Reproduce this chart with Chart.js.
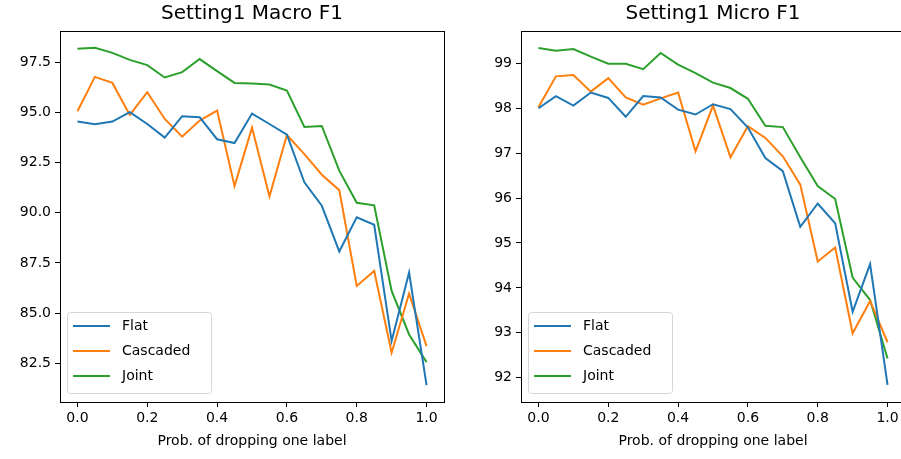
<!DOCTYPE html>
<html>
<head>
<meta charset="utf-8">
<script src="https://cdn.jsdelivr.net/npm/chart.js@4"></script>
<style>
  html, body { margin: 0; padding: 0; background: #fff; overflow: hidden; }
  #wrap { position: relative; width: 901px; height: 459px; overflow: hidden; }
  canvas { position: absolute; top: 0; }
</style>
</head>
<body>
<div id="wrap">
  <canvas id="macro" width="450" height="459" style="left:0px"></canvas>
  <canvas id="micro" width="450" height="459" style="left:461px"></canvas>
</div>
<script>
// Prob. of dropping one label (x values)
const probs = [0, 0.05, 0.1, 0.15, 0.2, 0.25, 0.3, 0.35, 0.4, 0.45, 0.5,
               0.55, 0.6, 0.65, 0.7, 0.75, 0.8, 0.85, 0.9, 0.95, 1.0];
const xTicks = [0, 0.2, 0.4, 0.6, 0.8, 1.0];

// Setting1 Macro F1
const macroFlat = [94.55, 94.42, 94.55, 95.02, 94.43, 93.75, 94.82, 94.77, 93.67, 93.48, 94.95,
                   94.43, 93.9, 91.52, 90.35, 88.07, 89.77, 89.4, 83.6, 87.02, 81.4];
const macroCascaded = [95.07, 96.78, 96.48, 94.88, 96.02, 94.68, 93.8, 94.6, 95.1, 91.33, 94.25,
                       90.82, 93.88, 92.93, 91.9, 91.13, 86.35, 87.1, 83.02, 85.97, 83.35];
const macroJoint = [98.18, 98.23, 97.98, 97.63, 97.37, 96.75, 97.02, 97.67, 97.07, 96.48, 96.45,
                    96.4, 96.1, 94.28, 94.33, 92.1, 90.5, 90.37, 86.1, 83.93, 82.55];
const macroTicks = [82.5, 85.0, 87.5, 90.0, 92.5, 95.0, 97.5];

// Setting1 Micro F1
const microFlat = [98.0, 98.27, 98.06, 98.35, 98.23, 97.81, 98.27, 98.24, 97.97, 97.86, 98.09,
                   97.98, 97.57, 96.89, 96.6, 95.36, 95.88, 95.44, 93.47, 94.53, 91.84];
const microCascaded = [98.02, 98.71, 98.74, 98.37, 98.67, 98.24, 98.08, 98.22, 98.35, 97.04, 98.06,
                       96.91, 97.6, 97.34, 96.93, 96.3, 94.59, 94.9, 92.99, 93.71, 92.79];
const microJoint = [99.34, 99.28, 99.32, 99.15, 98.99, 98.99, 98.87, 99.23, 98.97, 98.78, 98.57,
                    98.45, 98.21, 97.61, 97.58, 96.91, 96.27, 95.98, 94.23, 93.73, 92.43];
const microTicks = [92, 93, 94, 95, 96, 97, 98, 99];

const seriesNames = ['Flat', 'Cascaded', 'Joint'];
const colors = ['#1f77b4', '#ff7f0e', '#2ca02c'];
const FONT = "'DejaVu Sans', sans-serif";

Chart.defaults.font.family = FONT;
Chart.defaults.color = '#000';

// titre centré sur la zone du graphique, cadre complet + légende en bas à gauche
const frameLegend = {
    id: 'frameLegend',
    afterDraw(chart) {
        const ctx = chart.ctx;
        const a = chart.chartArea;
        ctx.save();
        ctx.fillStyle = '#000';
        ctx.font = '20px ' + FONT;
        ctx.textAlign = 'center';
        ctx.textBaseline = 'middle';
        ctx.fillText(chart.options.plugins.frameLegend.title, (a.left + a.right) / 2, 14);

        ctx.strokeStyle = '#000';
        ctx.lineWidth = 1;
        ctx.strokeRect(Math.round(a.left) + 0.5, Math.round(a.top) + 0.5,
                       Math.round(a.right - a.left), Math.round(a.bottom - a.top));

        const x = Math.round(a.left) + 7, y = Math.round(a.bottom) - 90;
        const w = 144, h = 81;
        ctx.beginPath();
        ctx.roundRect(x + 0.5, y + 0.5, w, h, 3);
        ctx.fillStyle = 'rgba(255,255,255,0.8)';
        ctx.fill();
        ctx.strokeStyle = '#d6d6d6';
        ctx.stroke();

        ctx.font = '14px ' + FONT;
        ctx.textAlign = 'left';
        chart.data.datasets.forEach((ds, i) => {
            const ly = y + 14 + i * 25;
            ctx.strokeStyle = ds.borderColor;
            ctx.lineWidth = 2;
            ctx.beginPath();
            ctx.moveTo(x + 6, ly);
            ctx.lineTo(x + 43, ly);
            ctx.stroke();
            ctx.fillStyle = '#000';
            ctx.fillText(ds.label, x + 55, ly);
        });
        ctx.restore();
    }
};

function makeChart(id, title, series, yMin, yMax, yTicks, decimals) {
    const datasets = series.map((vals, i) => ({
        label: seriesNames[i],
        data: probs.map((p, j) => ({x: p, y: vals[j]})),
        borderColor: colors[i],
        backgroundColor: colors[i],
        borderWidth: 2,
        pointRadius: 0,
        tension: 0,
        fill: false
    }));

    return new Chart(document.getElementById(id), {
        type: 'line',
        data: {datasets: datasets},
        options: {
            responsive: false,
            animation: false,
            devicePixelRatio: 1,
            layout: {padding: {left: 0, right: 6, top: 31, bottom: 0}},
            plugins: {
                legend: {display: false},
                tooltip: {enabled: false},
                title: {display: false},
                frameLegend: {title: title}
            },
            scales: {
                x: {
                    type: 'linear',
                    min: -0.05,
                    max: 1.05,
                    afterBuildTicks: scale => { scale.ticks = xTicks.map(v => ({value: v})); },
                    afterFit: scale => { scale.height = 57; },
                    ticks: {
                        autoSkip: false,
                        maxRotation: 0,
                        padding: 3,
                        color: '#000',
                        font: {size: 14},
                        callback: v => Number(v).toFixed(1)
                    },
                    grid: {drawOnChartArea: false, drawTicks: true, tickLength: 5, color: '#000'},
                    border: {display: true, color: '#000', width: 1},
                    title: {
                        display: true,
                        text: 'Prob. of dropping one label',
                        color: '#000',
                        font: {size: 14, lineHeight: 1.2},
                        padding: {top: 0, bottom: 9}
                    }
                },
                y: {
                    min: yMin,
                    max: yMax,
                    afterBuildTicks: scale => { scale.ticks = yTicks.map(v => ({value: v})); },
                    afterFit: scale => { scale.width = 60; },
                    ticks: {
                        autoSkip: false,
                        padding: 4,
                        color: '#000',
                        font: {size: 14},
                        callback: v => Number(v).toFixed(decimals)
                    },
                    grid: {drawOnChartArea: false, drawTicks: true, tickLength: 5, color: '#000'},
                    border: {display: true, color: '#000', width: 1}
                }
            }
        },
        plugins: [frameLegend]
    });
}

makeChart('macro', 'Setting1 Macro F1', [macroFlat, macroCascaded, macroJoint], 80.56, 99.07, macroTicks, 1);
makeChart('micro', 'Setting1 Micro F1', [microFlat, microCascaded, microJoint], 91.46, 99.72, microTicks, 0);
</script>
</body>
</html>
